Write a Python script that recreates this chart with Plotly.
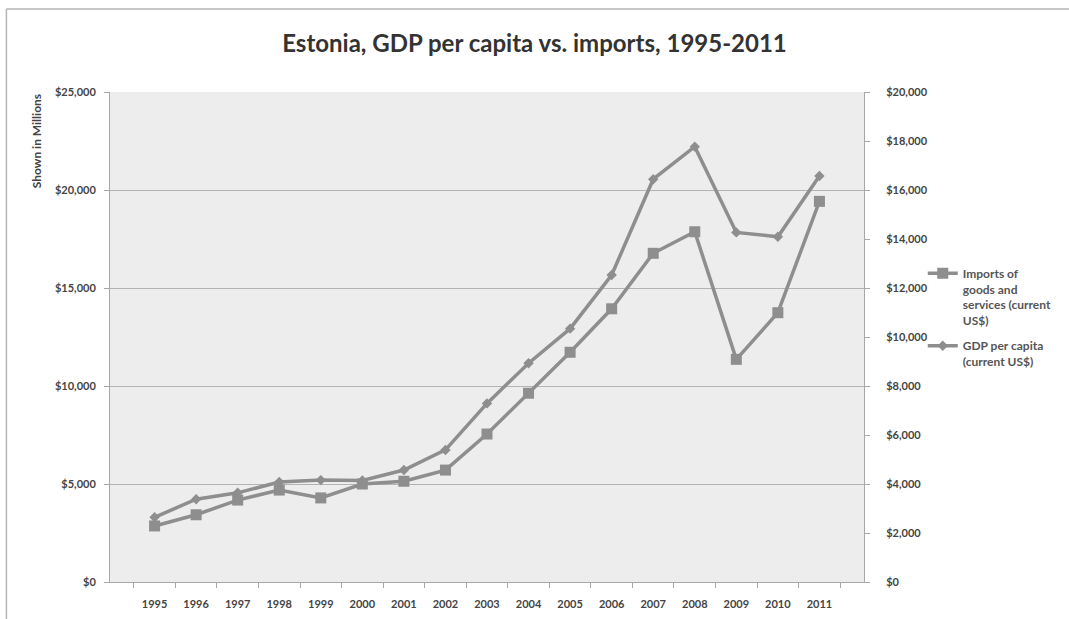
import plotly.graph_objects as go

# Data (imports in millions of current US$, GDP per capita in current US$)
years = [str(y) for y in range(1995, 2012)]
imports_musd = [2860, 3430, 4180, 4690, 4290, 5000, 5140, 5710, 7550, 9630,
                11720, 13940, 16770, 17870, 11360, 13740, 19420]
gdp_per_capita = [2640, 3380, 3640, 4080, 4160, 4140, 4570, 5390, 7290, 8930,
                  10340, 12530, 16440, 17770, 14270, 14090, 16570]

W, H = 1069, 619
ML, MR, MT, MB = 110, 202, 92, 37
PW, PH = W - ML - MR, H - MT - MB

LINE = "#8e8e8e"
TXT = "#444444"
FONT = "Lato"


def px_x(px):
    return (px - ML) / PW


def px_y(py):
    return (H - MB - py) / PH


fig = go.Figure()
fig.add_trace(go.Scatter(
    x=years, y=imports_musd, yaxis="y", legendgroup="imports",
    name="Imports of<br>goods and<br>services (current<br>US$)",
    mode="lines+markers",
    line=dict(color=LINE, width=3.5),
    marker=dict(symbol="square", size=11, color=LINE),
))
fig.add_trace(go.Scatter(
    x=years, y=gdp_per_capita, yaxis="y2", legendgroup="gdp",
    name="GDP per capita<br>(current US$)",
    mode="lines+markers",
    line=dict(color=LINE, width=3.5),
    marker=dict(symbol="diamond", size=8, color=LINE),
))

axis_common = dict(
    showline=True, linecolor="#a8a8a8", linewidth=1,
    ticks="outside", ticklen=5, tickcolor="#a8a8a8",
    tickfont=dict(family=FONT, size=11, color=TXT, weight="bold"),
    zeroline=False, automargin=False,
)

fig.update_layout(
    width=W, height=H,
    margin=dict(l=ML, r=MR, t=MT, b=MB),
    paper_bgcolor="white",
    plot_bgcolor="#ededed",
    font=dict(family=FONT, color=TXT),
    title=dict(
        text="Estonia, GDP per capita vs. imports, 1995-2011",
        x=0.5, xanchor="center", y=1 - 44 / H, yanchor="middle",
        font=dict(family=FONT, size=24, color="#333333", weight="bold"),
    ),
    xaxis=dict(
        type="category", tickson="boundaries", showgrid=False,
        ticklabelstandoff=12,
        **axis_common,
    ),
    yaxis=dict(
        range=[0, 25000], dtick=5000, tickprefix="$", tickformat=",d",
        showgrid=True, gridcolor="#b3b3b3", gridwidth=1,
        ticklabelstandoff=6,
        **axis_common,
    ),
    yaxis2=dict(
        range=[0, 20000], dtick=2000, tickprefix="$", tickformat=",d",
        overlaying="y", side="right", showgrid=False,
        ticklabelstandoff=14,
        **axis_common,
    ),
    legend=dict(
        x=px_x(926), y=px_y(259), xanchor="left", yanchor="top",
        valign="top", bgcolor="rgba(0,0,0,0)", itemwidth=30,
        font=dict(family=FONT, size=12, color="#555555", weight="bold"),
        tracegroupgap=7,
    ),
    showlegend=True,
    shapes=[
        # outer frame: top and left edges
        dict(type="line", xref="paper", yref="paper",
             x0=px_x(6), x1=px_x(W + 50), y0=px_y(9), y1=px_y(9),
             line=dict(color="#b5b5b5", width=1.5), layer="below"),
        dict(type="line", xref="paper", yref="paper",
             x0=px_x(6), x1=px_x(6), y0=px_y(9), y1=px_y(H + 50),
             line=dict(color="#b5b5b5", width=1.5), layer="below"),
    ],
    annotations=[
        dict(text="Shown in Millions", xref="paper", yref="paper",
             x=px_x(36), y=px_y(141), xanchor="center", yanchor="middle",
             textangle=-90, showarrow=False,
             font=dict(family=FONT, size=12, color=TXT, weight="bold")),
    ],
)

fig.write_html("out.html")
